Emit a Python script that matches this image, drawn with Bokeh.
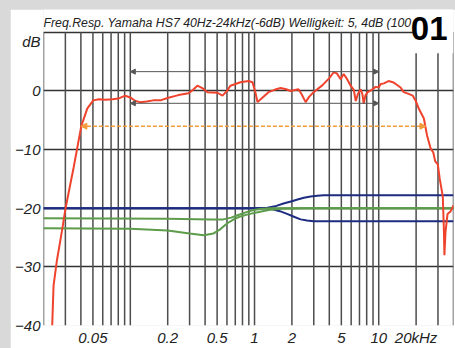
from bokeh.plotting import figure
from bokeh.models import FixedTicker, Label, Arrow, NormalHead, Range1d, BoxAnnotation
from bokeh.layouts import column
from bokeh.embed import file_html
from bokeh.resources import INLINE

# ---------------- data (frequency in kHz, level in dB) ----------------
resp_khz = [0.0235, 0.0241, 0.0256, 0.0281, 0.0301, 0.035, 0.0403, 0.045, 0.0503, 0.056,
            0.0628, 0.072, 0.080, 0.091, 0.100, 0.110, 0.120, 0.135, 0.153, 0.175,
            0.199, 0.244, 0.294, 0.320, 0.347, 0.380, 0.418, 0.503, 0.552, 0.600,
            0.639, 0.771, 0.895, 0.963, 1.01, 1.057, 1.15, 1.297, 1.45, 1.62,
            1.80, 1.95, 2.26, 2.40, 2.58, 2.75, 2.99, 3.53, 4.0, 4.34,
            4.6, 4.94, 5.22, 5.5, 5.94, 6.3, 6.53, 6.8, 7.16, 7.4,
            7.57, 7.8, 8.15, 8.8, 9.46, 10.0, 10.4, 11.0, 12.0, 13.0,
            13.7, 15.0, 15.9, 17.0, 18.8, 20.0, 21.0, 23.1, 24.5, 26.2,
            27.5, 28.5, 29.9, 31.0, 32.8, 33.5, 33.8, 34.5, 35.8, 38.0, 40.0]
resp_db = [-40.0, -33.2, -29.0, -24.0, -20.0, -13.0, -6.0, -3.0, -1.6, -1.4,
           -1.5, -1.4, -1.3, -0.8, -1.1, -1.7, -1.9, -1.8, -1.6, -1.6,
           -1.2, -0.7, -0.4, 0.2, 0.9, 0.5, -0.2, -0.3, -0.8, 0.0,
           0.9, 1.5, 1.7, 1.5, 0.0, -1.9, -1.2, -0.2, 0.2, 0.5,
           0.3, 0.0, 0.3, -0.6, -1.9, -1.0, -0.2, 1.0, 2.2, 3.2,
           3.0, 2.0, 2.9, 2.2, 0.9, 0.2, -1.7, -0.5, 0.3, -0.6,
           -2.2, -0.8, -0.2, 0.2, 0.7, 0.6, 1.2, 1.3, 1.7, 1.5,
           1.2, 0.6, -0.2, -0.4, -0.8, -1.8, -3.0, -4.7, -7.6, -9.8,
           -10.5, -12.0, -12.5, -15.0, -18.0, -24.0, -28.0, -24.0, -21.0, -20.5, -19.5]

blue_up_khz = [0.02, 1.10, 1.27, 1.50, 1.71, 2.00, 2.22, 2.50, 2.83, 3.20, 3.60, 40.0]
blue_up_db = [-20.0, -20.0, -19.9, -19.6, -19.2, -18.8, -18.5, -18.2, -18.0, -17.85, -17.8, -17.8]
blue_dn_khz = [0.02, 1.20, 1.35, 1.60, 1.85, 2.10, 2.35, 2.65, 2.99, 3.60, 40.0]
blue_dn_db = [-20.0, -20.0, -20.1, -20.5, -21.0, -21.5, -21.9, -22.1, -22.2, -22.2, -22.2]

green_a_khz = [0.02, 0.2, 0.45, 0.56, 0.65, 0.73, 0.85, 0.98, 1.15, 1.35, 2.0, 40.0]
green_a_db = [-21.7, -21.8, -21.9, -21.9, -21.6, -21.2, -20.7, -20.3, -20.1, -20.0, -20.0, -20.0]
green_b_khz = [0.02, 0.1, 0.2, 0.3, 0.39, 0.467, 0.53, 0.6, 0.68, 0.77, 0.9, 1.06, 1.3, 1.62, 2.5, 40.0]
green_b_db = [-23.4, -23.5, -23.8, -24.3, -24.6, -24.3, -23.6, -22.6, -21.9, -21.4, -21.0, -20.7, -20.3, -20.1, -20.0, -20.0]

bandwidth_khz = [0.04, 24.0]      # -6 dB limits
bandwidth_db = -6.0
ripple_khz = [0.1, 10.0]          # ripple band 100 Hz - 10 kHz
ripple_db = [3.3, -2.1]

x_tick_values = [0.05, 0.2, 0.5, 1, 2, 5, 10, 20]
x_tick_labels = ["0.05", "0.2", "0.5", "1", "2", "5", "10", "20kHz"]
y_tick_values = [-40, -30, -20, -10, 0, 8.5]
y_tick_labels = ["\u221240", "\u221230", "\u221220", "\u221210", "0", "dB"]
grid_khz = [0.02, 0.03, 0.04, 0.05, 0.06, 0.07, 0.08, 0.09,
            0.1, 0.2, 0.3, 0.4, 0.5, 0.6, 0.7, 0.8, 0.9,
            1, 2, 3, 4, 5, 6, 7, 8, 9, 10, 20, 30, 40]
grid_db = [-40, -30, -20, -10, 0, 10]
title_text = "Freq.Resp. Yamaha HS7 40Hz-24kHz(-6dB)  Welligkeit: 5, 4dB (100"
badge_text = "01"

RED = "#ef432d"
ORANGE = "#f39a3a"
BLUE = "#1d2c80"
GREEN = "#5c9c4a"
FONT = "Liberation Sans"

X_MIN, X_MAX = 0.02, 40.0
Y_MIN, Y_TOP, Y_MAX = -40.0, 10.0, 13.9   # chart area ends at +10 dB, title space above

p = figure(width=445, height=339, x_axis_type="log",
           x_range=Range1d(X_MIN, X_MAX), y_range=Range1d(Y_MIN, Y_MAX),
           title=None, output_backend="svg", toolbar_location=None,
           min_border_left=33, min_border_right=2, min_border_top=0, min_border_bottom=21,
           background_fill_color="white", border_fill_color="white",
           outline_line_color=None)
p.margin = (9, 0, 0, 10)

# grid: vertical lines only between -40 and +10 dB
p.xgrid[0].visible = False
p.segment(x0=grid_khz, y0=[Y_MIN] * len(grid_khz), x1=grid_khz, y1=[Y_TOP] * len(grid_khz),
          line_color="#4d4d4d", line_width=1.5)
p.ygrid[0].ticker = FixedTicker(ticks=grid_db)
p.ygrid[0].grid_line_color = "#333333"
p.ygrid[0].grid_line_width = 1.5

# axes
for ax in (p.xaxis[0], p.yaxis[0]):
    ax.axis_line_color = None
    ax.major_tick_line_color = None
    ax.minor_tick_line_color = None
    ax.major_tick_out = 0
    ax.major_tick_in = 0
    ax.minor_tick_out = 0
    ax.minor_tick_in = 0
    ax.major_label_text_font = FONT
    ax.major_label_text_font_style = "italic"
    ax.major_label_text_font_size = "15px"
    ax.major_label_text_color = "#222222"
    ax.major_label_standoff = 3
p.xaxis[0].ticker = FixedTicker(ticks=x_tick_values)
p.xaxis[0].major_label_overrides = dict(zip(x_tick_values, x_tick_labels))
p.yaxis[0].ticker = FixedTicker(ticks=y_tick_values)
p.yaxis[0].major_label_overrides = dict(zip(y_tick_values, y_tick_labels))

# curves
p.line(blue_up_khz, blue_up_db, line_color=BLUE, line_width=2)
p.line(blue_dn_khz, blue_dn_db, line_color=BLUE, line_width=2)
p.line(green_a_khz, green_a_db, line_color=GREEN, line_width=2)
p.line(green_b_khz, green_b_db, line_color=GREEN, line_width=2)

# ripple band arrows
for yv in ripple_db:
    p.add_layout(Arrow(x_start=ripple_khz[0], y_start=yv, x_end=ripple_khz[1], y_end=yv,
                       line_color="#555555", line_width=1,
                       start=NormalHead(size=5, fill_color="#555555", line_color="#555555"),
                       end=NormalHead(size=5, fill_color="#555555", line_color="#555555")))
# -6 dB bandwidth arrow
p.add_layout(Arrow(x_start=bandwidth_khz[0], y_start=bandwidth_db,
                   x_end=bandwidth_khz[1], y_end=bandwidth_db,
                   line_color=ORANGE, line_width=1.5, line_dash="4 2",
                   start=NormalHead(size=6, fill_color=ORANGE, line_color=ORANGE),
                   end=NormalHead(size=6, fill_color=ORANGE, line_color=ORANGE)))

p.line(resp_khz, resp_db, line_color=RED, line_width=2)

# title line inside the upper strip
p.add_layout(Label(x=X_MIN, y=Y_TOP, text=title_text, text_align="left", text_baseline="bottom",
                   x_offset=0, y_offset=2, text_font=FONT, text_font_style="italic",
                   text_font_size="12.3px", text_color="#222222"))

# white badge box with issue number
p.add_layout(BoxAnnotation(left=19.2, right=X_MAX, bottom=6.45, top=Y_MAX,
                           fill_color="white", fill_alpha=1.0, line_color=None))
p.add_layout(Label(x=X_MAX, y=Y_TOP, text=badge_text, text_align="right", text_baseline="middle",
                   x_offset=-6, y_offset=4, text_font=FONT,
                   text_font_style="bold", text_font_size="33px", text_color="black"))

layout = column(p, styles={"background-color": "#d9d9d9"})
open("out.html", "w").write(file_html(layout, INLINE))
